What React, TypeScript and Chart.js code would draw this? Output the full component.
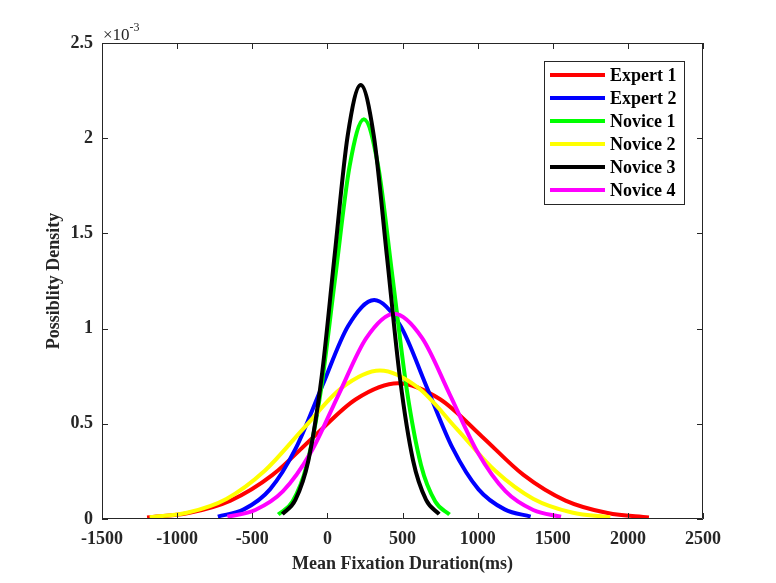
import React, { useEffect, useRef } from 'react'
import Chart, { ChartConfiguration, Plugin } from 'chart.js/auto'

// density values are in units of 1e-3 (the axis carries the x10^-3 factor)
const seriesLabels = ['Expert 1', 'Expert 2', 'Novice 1', 'Novice 2', 'Novice 3', 'Novice 4']
const seriesColors = ['#ff0000', '#0000ff', '#00ff00', '#ffff00', '#000000', '#ff00ff']
// later-drawn curves sit on top (black is the top-most in the picture)
const seriesOrder = [6, 5, 4, 3, 1, 2]

const expert1X = [-1200, -925, -645, -365, -90, 190, 470, 750, 1030, 1305, 1585, 1865, 2140]
const expert1Y = [0.0079, 0.0313, 0.0965, 0.2315, 0.4324, 0.6292, 0.713, 0.6292, 0.4324, 0.2315, 0.0965, 0.0313, 0.0079]

const expert2X = [-729, -556, -382, -209, -35, 139, 312, 486, 659, 833, 1006, 1180, 1353]
const expert2Y = [0.0128, 0.0505, 0.1556, 0.3734, 0.6975, 1.0149, 1.15, 1.0149, 0.6975, 0.3734, 0.1556, 0.0505, 0.0128]

const novice1X = [-327, -232, -137, -42, 53, 148, 243, 338, 433, 528, 623, 718, 813]
const novice1Y = [0.0233, 0.0922, 0.2841, 0.6819, 1.2737, 1.8533, 2.1, 1.8533, 1.2737, 0.6819, 0.2841, 0.0922, 0.0233]

const novice2X = [-1183, -928, -672, -417, -161, 95, 350, 606, 861, 1117, 1372, 1628, 1883]
const novice2Y = [0.0087, 0.0342, 0.1055, 0.2533, 0.4731, 0.6884, 0.78, 0.6884, 0.4731, 0.2533, 0.1055, 0.0342, 0.0087]

const novice3X = [-300, -213, -126, -39, 48, 135, 222, 309, 396, 483, 570, 657, 744]
const novice3Y = [0.0253, 0.1001, 0.3085, 0.7403, 1.3828, 2.0121, 2.28, 2.0121, 1.3828, 0.7403, 0.3085, 0.1001, 0.0253]

const novice4X = [-665, -480, -295, -110, 75, 260, 445, 630, 815, 1000, 1185, 1370, 1555]
const novice4Y = [0.012, 0.0473, 0.1459, 0.35, 0.6538, 0.9513, 1.078, 0.9513, 0.6538, 0.35, 0.1459, 0.0473, 0.012]

const seriesX = [expert1X, expert2X, novice1X, novice2X, novice3X, novice4X]
const seriesY = [expert1Y, expert2Y, novice1Y, novice2Y, novice3Y, novice4Y]

const xMin = -1500
const xMax = 2500
const xStep = 500
const yMin = 0
const yMax = 2.5
const yStep = 0.5

const serif = "'Liberation Serif', 'Times New Roman', serif"
const axisColor = '#262626'
const labelFont = { family: serif, size: 18, weight: 'bold' as const }

// MATLAB-like box with inward ticks, exponent label and boxed legend
const matlabAxes: Plugin<'line'> = {
  id: 'matlabAxes',
  afterDraw(chart) {
    const { ctx, chartArea: a, scales } = chart
    const len = 6
    ctx.save()
    ctx.strokeStyle = axisColor
    ctx.lineWidth = 1
    ctx.beginPath()
    ctx.rect(a.left + 0.5, a.top + 0.5, a.right - a.left - 1, a.bottom - a.top - 1)
    scales.x.ticks.forEach((t) => {
      const px = Math.round(scales.x.getPixelForValue(t.value)) + 0.5
      ctx.moveTo(px, a.bottom)
      ctx.lineTo(px, a.bottom - len)
      ctx.moveTo(px, a.top)
      ctx.lineTo(px, a.top + len)
    })
    scales.y.ticks.forEach((t) => {
      const py = Math.round(scales.y.getPixelForValue(t.value)) + 0.5
      ctx.moveTo(a.left, py)
      ctx.lineTo(a.left + len, py)
      ctx.moveTo(a.right, py)
      ctx.lineTo(a.right - len, py)
    })
    ctx.stroke()

    // x10^-3 exponent
    ctx.fillStyle = axisColor
    ctx.textBaseline = 'alphabetic'
    ctx.textAlign = 'left'
    ctx.font = `17px ${serif}`
    ctx.fillText('\u00d710', a.left + 1, a.top - 3)
    const w = ctx.measureText('\u00d710').width
    ctx.font = `12px ${serif}`
    ctx.fillText('-3', a.left + 1 + w, a.top - 12)

    // legend
    const lx = a.right - 159
    const ly = a.top + 18
    const lw = 140
    const lh = 143
    ctx.fillStyle = '#ffffff'
    ctx.fillRect(lx, ly, lw, lh)
    ctx.strokeStyle = axisColor
    ctx.lineWidth = 1
    ctx.strokeRect(lx + 0.5, ly + 0.5, lw, lh)
    ctx.font = `bold 18px ${serif}`
    ctx.textBaseline = 'middle'
    chart.data.datasets.forEach((ds, i) => {
      const cy = ly + 14 + i * 23
      ctx.strokeStyle = ds.borderColor as string
      ctx.lineWidth = 4
      ctx.beginPath()
      ctx.moveTo(lx + 6, cy)
      ctx.lineTo(lx + 61, cy)
      ctx.stroke()
      ctx.fillStyle = '#000000'
      ctx.fillText(ds.label ?? '', lx + 66, cy + 1)
    })
    ctx.restore()
  },
}

const DensityChart: React.FC = () => {
  const chartRef = useRef<HTMLCanvasElement | null>(null)
  const chartInstance = useRef<Chart | null>(null)

  useEffect(() => {
    if (!chartRef.current) return
    if (chartInstance.current) chartInstance.current.destroy()
    const ctx = chartRef.current.getContext('2d')
    if (!ctx) return

    const config: ChartConfiguration<'line'> = {
      type: 'line',
      data: {
        datasets: seriesLabels.map((label, i) => ({
          label,
          data: seriesX[i].map((x, j) => ({ x, y: seriesY[i][j] })),
          borderColor: seriesColors[i],
          backgroundColor: seriesColors[i],
          borderWidth: 4,
          pointRadius: 0,
          fill: false,
          cubicInterpolationMode: 'monotone',
          order: seriesOrder[i],
        })),
      },
      options: {
        responsive: true,
        maintainAspectRatio: false,
        animation: false,
        layout: { padding: { top: 43, right: 73, left: 0, bottom: 0 } },
        plugins: {
          legend: { display: false },
          tooltip: { enabled: false },
        },
        scales: {
          x: {
            type: 'linear',
            min: xMin,
            max: xMax,
            afterFit: (scale) => {
              scale.height = 64
            },
            ticks: {
              stepSize: xStep,
              color: axisColor,
              padding: 10,
              maxRotation: 0,
              font: labelFont,
              callback: (v) => String(v),
            },
            grid: { display: false, drawTicks: false },
            border: { display: false },
            title: {
              display: true,
              text: 'Mean Fixation Duration(ms)',
              color: axisColor,
              font: labelFont,
              padding: { top: 0, bottom: 8 },
            },
          },
          y: {
            type: 'linear',
            min: yMin,
            max: yMax,
            afterFit: (scale) => {
              scale.width = 102
            },
            ticks: {
              stepSize: yStep,
              color: axisColor,
              padding: 9,
              font: labelFont,
              callback: (v) => String(v),
            },
            grid: { display: false, drawTicks: false },
            border: { display: false },
            title: {
              display: true,
              text: 'Possiblity Density',
              color: axisColor,
              font: labelFont,
              padding: { top: 44, bottom: 0 },
            },
          },
        },
      },
      plugins: [matlabAxes],
    }

    chartInstance.current = new Chart(ctx, config)

    return () => {
      if (chartInstance.current) {
        chartInstance.current.destroy()
        chartInstance.current = null
      }
    }
  }, [])

  return (
    <div style={{ position: 'absolute', left: 0, top: 0, width: 776, height: 583, background: '#ffffff' }}>
      <canvas ref={chartRef} />
    </div>
  )
}

export default function App() {
  return <DensityChart />
}
